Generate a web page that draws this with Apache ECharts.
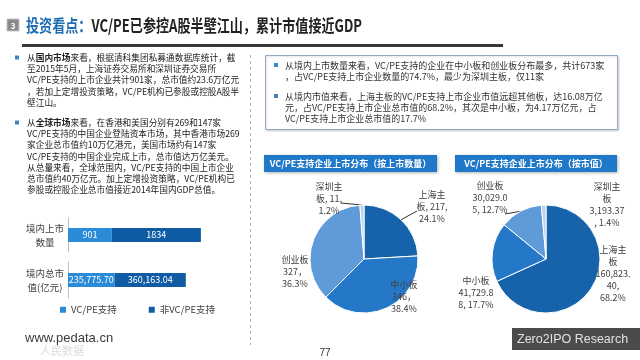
<!DOCTYPE html>
<html><head><meta charset="utf-8">
<script src="https://cdn.jsdelivr.net/npm/echarts@6/dist/echarts.min.js"></script>
<style>html,body{margin:0;padding:0;background:#fff}#c{width:640px;height:360px}</style>
</head><body><div id="c"></div>
<script>
// ---------- data ----------
const barCatTop = ['境内上市\n数量'];
const barCatBottom = ['境内总市\n值(亿元)'];
const barSeriesNames = ['VC/PE支持', '非VC/PE支持'];
const countVC = [901];
const countNonVC = [1834];
const capVC = [235775.70];
const capNonVC = [360163.04];
const pieBoards = ['上海主板', '中小板', '创业板', '深圳主板'];
const pieCount = [217, 346, 327, 11];
const pieCap = [160823.40, 41729.88, 30029.05, 3193.37];
const pieTitles = ['VC/PE支持企业上市分布（按上市数量）', 'VC/PE支持企业上市分布（按市值）'];

// ---------- helpers ----------
const CJK = '"Noto Sans CJK SC","Microsoft YaHei",sans-serif';
function fmt(v, d) {
  const s = v.toFixed(d); const parts = s.split('.');
  return parts[0].replace(/\B(?=(\d{3})+(?!\d))/g, ',') + (parts[1] ? '.' + parts[1] : '');
}
function wrap(str, w) {
  const out = [];
  while (str.length > w) {
    const idx = str.slice(0, w + 1).lastIndexOf(' ');
    if (idx > 0) { out.push(str.slice(0, idx)); str = str.slice(idx + 1); }
    else { out.push(str.slice(0, w)); str = str.slice(w); }
  }
  out.push(str);
  return out.join('\n');
}
const chart = echarts.init(document.getElementById('c'), null, {renderer: 'canvas'});

const leftPieColors = ['#1663ab', '#2478c7', '#5f9bd8', '#b8d2f0'];
const rightPieColors = ['#1c6cba', '#2376c6', '#6ea2de', '#b8d2f0'];
// label placement (centre of each label block) and leader-line end next to the label
const leftLabelPos = [[432, 207], [404, 297], [295, 272], [329, 199]];
const rightLabelPos = [[613, 274], [476, 293], [490, 198], [607, 205]];
const leftLineEnd = [[417, 211], null, null, [341, 203]];
const rightLineEnd = [null, null, [505, 214], null];

function txt(x, y, text, st, extra) {
  return Object.assign({type: 'text', x: x, y: y, silent: true,
    style: Object.assign({text: text, fontFamily: CJK, fontSize: 9, fill: '#333',
      align: 'left', textAlign: 'left', verticalAlign: 'top', textVerticalAlign: 'top'}, st)}, extra || {});
}

const p1 = '从{b|国内市场}来看，根据清科集团私募通数据库统计，截\n至2015年5月，上海证券交易所和深圳证券交易所\nVC/PE支持的上市企业共计901家，总市值约23.6万亿元\n，若加上定增投资策略，VC/PE机构已参股或控股A股半\n壁江山。';
const p2 = '从{b|全球市场}来看，在香港和美国分别有269和147家\nVC/PE支持的中国企业登陆资本市场，其中香港市场269\n家企业总市值约10万亿港元，美国市场约有147家\nVC/PE支持的中国企业完成上市，总市值达万亿美元。\n从总量来看，全球范围内，VC/PE支持的中国上市企业\n总市值约40万亿元。加上定增投资策略，VC/PE机构已\n参股或控股企业总市值接近2014年国内GDP总值。';
const p3 = '从境内上市数量来看，VC/PE支持的企业在中小板和创业板分布最多，共计673家\n，占VC/PE支持上市企业数量的74.7%，最少为深圳主板，仅11家';
const p4 = '从境内市值来看，上海主板的VC/PE支持上市企业市值远超其他板，达16.08万亿\n元，占VC/PE支持上市企业总市值的68.2%，其次是中小板，为4.17万亿元，占\nVC/PE支持上市企业总市值的17.7%';
const richB = {b: {fontWeight: 'bold', fontFamily: CJK, fontSize: 8.7, fill: '#222', lineHeight: 11.2}};

const graphics = [
  {type: 'rect', silent: true, shape: {x: 7, y: 19, width: 12, height: 12}, style: {fill: '#8a8a8a', stroke: '#c4c4c4', lineWidth: 1}},
  txt(13, 25.5, '3', {fill: '#fff', fontSize: 8, fontWeight: 'bold', align: 'center', textAlign: 'center', verticalAlign: 'middle', textVerticalAlign: 'middle'}),
  Object.assign(txt(26, 25.5, '{a|投资看点：}{c|VC/PE已参控A股半壁江山，累计市值接近GDP}', {fontSize: 17, fontWeight: 'bold', verticalAlign: 'middle', textVerticalAlign: 'middle',
    rich: {a: {fill: '#1e6db5', fontSize: 17, fontWeight: 'bold', fontFamily: CJK}, c: {fill: '#222', fontSize: 17, fontWeight: 'bold', fontFamily: CJK}}}), {scaleX: 0.77}),
  {type: 'rect', silent: true, shape: {x: 22, y: 44, width: 481, height: 3}, style: {fill: '#383838'}},
  // left text
  {type: 'rect', silent: true, shape: {x: 15, y: 55.5, width: 4, height: 4}, style: {fill: '#3d86c6'}},
  {type: 'rect', silent: true, shape: {x: 15, y: 120.5, width: 4, height: 4}, style: {fill: '#3d86c6'}},
  txt(27, 52, p1, {fontSize: 8.7, lineHeight: 11.2, fill: '#222', rich: richB}),
  txt(27, 117, p2, {fontSize: 8.7, lineHeight: 11.2, fill: '#222', rich: richB}),
  // dashed divider
  {type: 'line', silent: true, shape: {x1: 250.5, y1: 55, x2: 250.5, y2: 345}, style: {stroke: '#9fbddb', lineWidth: 1, lineDash: [3, 3]}},
  // right box
  {type: 'rect', silent: true, shape: {x: 265.5, y: 55.5, width: 352, height: 74}, style: {fill: '#fff', stroke: '#8faac4', lineWidth: 1, shadowBlur: 2, shadowColor: 'rgba(0,0,0,0.15)', shadowOffsetX: 1, shadowOffsetY: 1}},
  {type: 'rect', silent: true, shape: {x: 274, y: 63, width: 4, height: 4}, style: {fill: '#3d86c6'}},
  {type: 'rect', silent: true, shape: {x: 274, y: 94, width: 4, height: 4}, style: {fill: '#3d86c6'}},
  txt(285, 59.5, p3, {fontSize: 9, lineHeight: 11.2, fill: '#333'}),
  txt(285, 90.5, p4, {fontSize: 9, lineHeight: 11.2, fill: '#333'}),
  // pie title boxes
  {type: 'rect', silent: true, shape: {x: 264, y: 155, width: 173, height: 17}, style: {fill: '#1f78c8', shadowBlur: 3, shadowColor: 'rgba(0,0,0,0.3)', shadowOffsetX: 1, shadowOffsetY: 1}},
  txt(350.5, 163.5, pieTitles[0], {fill: '#fff', fontWeight: 'bold', fontSize: 9, align: 'center', textAlign: 'center', verticalAlign: 'middle', textVerticalAlign: 'middle'}),
  {type: 'rect', silent: true, shape: {x: 455, y: 155, width: 162, height: 17}, style: {fill: '#1f78c8', shadowBlur: 3, shadowColor: 'rgba(0,0,0,0.3)', shadowOffsetX: 1, shadowOffsetY: 1}},
  txt(536, 163.5, pieTitles[1], {fill: '#fff', fontWeight: 'bold', fontSize: 9, align: 'center', textAlign: 'center', verticalAlign: 'middle', textVerticalAlign: 'middle'}),
  // footer
  txt(25, 338, 'www.pedata.cn', {fontFamily: '"Liberation Sans",Arial,sans-serif', fontSize: 13, fill: '#3a3a3a', verticalAlign: 'middle', textVerticalAlign: 'middle'}),
  txt(40, 351, '人民数据', {fontSize: 11, fill: '#dcdcdc', verticalAlign: 'middle', textVerticalAlign: 'middle'}),
  txt(325, 353, '77', {fontFamily: '"Liberation Sans",Arial,sans-serif', fontSize: 10, fill: '#333', align: 'center', textAlign: 'center', verticalAlign: 'middle', textVerticalAlign: 'middle'}),
  {type: 'rect', silent: true, shape: {x: 512, y: 328, width: 128, height: 22}, style: {fill: '#4b4b4b'}},
  txt(517, 339.5, 'Zero2IPO Research', {fontFamily: '"Liberation Sans",Arial,sans-serif', fontSize: 12.5, fill: '#e2e2e2', verticalAlign: 'middle', textVerticalAlign: 'middle'})
];

const barLabel = function (d) {
  return {show: true, position: 'inside', color: '#fff', fontSize: 9, fontFamily: CJK,
    formatter: p => d ? fmt(p.value, 2) : String(p.value)};
};
const yAxisCommon = {
  type: 'category', axisTick: {show: false},
  axisLine: {show: true, lineStyle: {color: '#bfbfbf'}},
  axisLabel: {align: 'center', margin: 23, fontSize: 9.5, color: '#404040', lineHeight: 14, fontFamily: CJK}
};

function pieData(vals, ends) {
  return pieBoards.map((n, i) => ({name: n, value: vals[i], labelLine: {show: !!ends[i]}}));
}
const pieLabelBase = {show: true, fontSize: 9, lineHeight: 12, color: '#404040', fontFamily: CJK, align: 'center', overflow: 'none'};
const pieLine = {show: true, length: 6, length2: 6, lineStyle: {color: '#333', width: 1}};
function pieLayout(pos, ends) {
  return p => {
    const o = {x: pos[p.dataIndex][0], y: pos[p.dataIndex][1], align: 'center', verticalAlign: 'middle'};
    const e = ends[p.dataIndex];
    if (e && p.labelLinePoints && p.labelLinePoints.length) {
      o.labelLinePoints = [p.labelLinePoints[0], e];
    }
    return o;
  };
}

const option = {
  animation: false,
  color: ['#2a8bd8', '#0f5ca4'],
  graphic: {elements: graphics},
  legend: {
    data: barSeriesNames, left: 55, top: 300, itemWidth: 6, itemHeight: 6, icon: 'rect', itemGap: 32,
    textStyle: {fontSize: 9.5, color: '#404040', fontFamily: CJK}
  },
  grid: [
    {left: 68, top: 218, width: 172, height: 34},
    {left: 68, top: 262, width: 172, height: 36}
  ],
  xAxis: [
    {type: 'value', gridIndex: 0, min: 0, max: 3540, show: false},
    {type: 'value', gridIndex: 1, min: 0, max: 870000, show: false}
  ],
  yAxis: [
    Object.assign({gridIndex: 0, data: barCatTop}, yAxisCommon),
    Object.assign({gridIndex: 1, data: barCatBottom}, yAxisCommon)
  ],
  series: [
    {type: 'bar', name: barSeriesNames[0], xAxisIndex: 0, yAxisIndex: 0, stack: 'a', barWidth: 14, data: countVC, label: barLabel(false)},
    {type: 'bar', name: barSeriesNames[1], xAxisIndex: 0, yAxisIndex: 0, stack: 'a', barWidth: 14, data: countNonVC, label: barLabel(false)},
    {type: 'bar', name: barSeriesNames[0], xAxisIndex: 1, yAxisIndex: 1, stack: 'b', barWidth: 14, data: capVC, label: barLabel(true)},
    {type: 'bar', name: barSeriesNames[1], xAxisIndex: 1, yAxisIndex: 1, stack: 'b', barWidth: 14, data: capNonVC, label: barLabel(true)},
    {
      type: 'pie', center: [364, 259], radius: 54, startAngle: 90, clockwise: true, percentPrecision: 1,
      color: leftPieColors, silent: true,
      itemStyle: {borderColor: '#fff', borderWidth: 1},
      label: Object.assign({}, pieLabelBase, {
        formatter: p => {
          const n = p.name, pct = p.percent.toFixed(1) + '%';
          return n.length > 3 ? n.slice(0, 3) + '\n' + n.slice(3) + ', ' + p.value + ',\n' + pct
                              : n + '\n' + p.value + '，\n' + pct;
        }}),
      labelLine: pieLine,
      labelLayout: pieLayout(leftLabelPos, leftLineEnd),
      data: pieData(pieCount, leftLineEnd)
    },
    {
      type: 'pie', center: [546, 259], radius: 54, startAngle: 90, clockwise: true, percentPrecision: 1,
      color: rightPieColors, silent: true,
      itemStyle: {borderColor: '#fff', borderWidth: 1},
      label: Object.assign({}, pieLabelBase, {
        formatter: p => {
          const n = p.name, pct = p.percent.toFixed(1) + '%';
          const head = n.length > 3 ? n.slice(0, 3) + '\n' + n.slice(3) : n;
          return head + '\n' + wrap(fmt(p.value, 2) + ', ' + pct, 8);
        }}),
      labelLine: pieLine,
      labelLayout: pieLayout(rightLabelPos, rightLineEnd),
      data: pieData(pieCap, rightLineEnd)
    }
  ]
};
chart.setOption(option);
</script>
</body></html>
